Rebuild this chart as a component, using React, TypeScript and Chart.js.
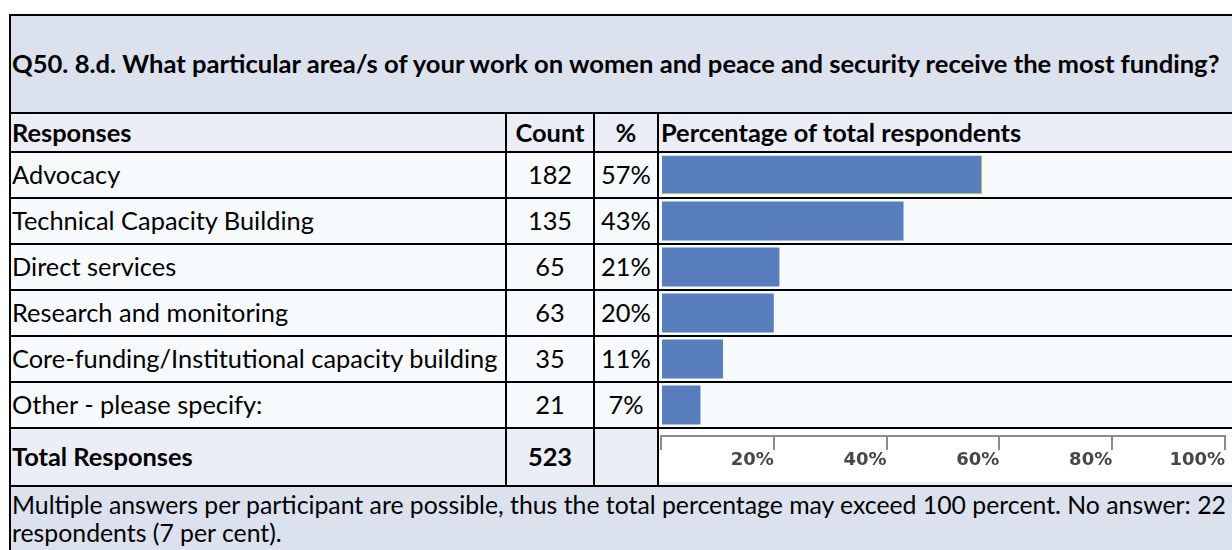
import React, { useEffect, useRef } from 'react';
import { Chart, registerables } from 'chart.js';

Chart.register(...registerables);

const TITLE =
  'Q50. 8.d. What particular area/s of your work on women and peace and security receive the most funding?';
const HEADERS = ['Responses', 'Count', '%', 'Percentage of total respondents'];
const CATEGORIES = [
  'Advocacy',
  'Technical Capacity Building',
  'Direct services',
  'Research and monitoring',
  'Core-funding/Institutional capacity building',
  'Other - please specify:',
];
const COUNTS = [182, 135, 65, 63, 35, 21];
const PERCENTS = [57, 43, 21, 20, 11, 7];
const TOTAL_LABEL = 'Total Responses';
const TOTAL_COUNT = 523;
const AXIS_TICKS = [0, 20, 40, 60, 80, 100];
const FOOTNOTE_LINES = [
  'Multiple answers per participant are possible, thus the total percentage may exceed 100 percent. No answer: 22',
  'respondents (7 per cent).',
];

const W = 1232;
const H = 550;
const FONT = 'Lato, "Open Sans", sans-serif';
const FS = 25.4;
const FS_TITLE = 25.6;
const FS_FOOT = 24.8;
const BAR_COLOR = '#587EBD';
const AXIS_GRAY = '#8C8C8C';

const COL1 = 505; // vertical lines (left px, 2px wide)
const COL2 = 593;
const COL3 = 657;
const ROW_TOP = 151; // first data-row line
const ROW_H = 46;

function Box(props: { l: number; t: number; w: number; h: number; bg: string }) {
  return (
    <div
      style={{
        position: 'absolute',
        left: props.l,
        top: props.t,
        width: props.w,
        height: props.h,
        background: props.bg,
      }}
    />
  );
}

function Txt(props: {
  text: string | number;
  l: number;
  t: number;
  w: number;
  h: number;
  bold?: boolean;
  align?: 'left' | 'center';
  size?: number;
}) {
  return (
    <div
      style={{
        position: 'absolute',
        left: props.l,
        top: props.t,
        width: props.w,
        height: props.h,
        display: 'flex',
        alignItems: 'center',
        justifyContent: props.align === 'center' ? 'center' : 'flex-start',
        fontFamily: FONT,
        fontSize: props.size ?? FS,
        fontWeight: props.bold ? 700 : 400,
        color: '#000',
        whiteSpace: 'nowrap',
        lineHeight: 1,
      }}
    >
      {props.text}
    </div>
  );
}

export default function App() {
  const canvasRef = useRef<HTMLCanvasElement>(null);

  useEffect(() => {
    const canvas = canvasRef.current;
    if (!canvas) return;
    const chart = new Chart(canvas, {
      type: 'bar',
      data: {
        labels: CATEGORIES,
        datasets: [
          {
            data: PERCENTS,
            xAxisID: 'x',
            yAxisID: 'y',
            backgroundColor: BAR_COLOR,
            borderColor: '#FFFF00',
            borderWidth: PERCENTS.map((_, i) =>
              i === 0 ? { top: 0, right: 1, bottom: 1, left: 0 } : 0
            ) as any,
            borderSkipped: 'start',
            categoryPercentage: 1,
            barPercentage: 39 / 46,
          },
        ],
      },
      options: {
        indexAxis: 'y',
        animation: false,
        responsive: false,
        devicePixelRatio: 1,
        events: [],
        layout: { padding: { left: 661, top: 152, right: 7, bottom: 0 } },
        plugins: {
          legend: { display: false },
          tooltip: { enabled: false },
          title: { display: false },
        },
        scales: {
          x: {
            type: 'linear',
            position: 'bottom',
            weight: 10,
            min: 0,
            max: 100,
            afterBuildTicks: (s: any) => {
              s.ticks = AXIS_TICKS.map((v) => ({ value: v }));
            },
            afterFit: (s: any) => {
              s.height = H - 436;
            },
            grid: {
              drawOnChartArea: false,
              drawTicks: true,
              tickLength: 14,
              color: AXIS_GRAY,
              lineWidth: 2,
            },
            border: { display: true, color: AXIS_GRAY, width: 2 },
            ticks: {
              align: 'end',
              padding: 0,
              autoSkip: false,
              maxRotation: 0,
              color: '#474747',
              font: { family: '"DejaVu Sans"', weight: 'bold', size: 18 },
              callback: (v: any) => (Number(v) === 0 ? '' : v + '%'),
            },
          },
          gap: {
            type: 'linear',
            position: 'bottom',
            weight: 0,
            grid: { display: false },
            border: { display: false },
            ticks: { display: false },
            afterFit: (s: any) => {
              s.height = 8;
            },
          },
          y: {
            type: 'category',
            display: false,
            offset: true,
          },
        },
      } as any,
    });
    return () => chart.destroy();
  }, []);

  const lastLine = ROW_TOP + ROW_H * CATEGORIES.length; // 427
  const totalBottom = 485;

  return (
    <div
      style={{
        position: 'absolute',
        left: 0,
        top: 0,
        width: W,
        height: H,
        overflow: 'hidden',
        background: '#FFFFFF',
      }}
    >
      {/* backgrounds */}
      <Box l={9} t={14} w={W - 9} h={99} bg="#DCE1EE" />
      <Box l={9} t={113} w={W - 9} h={39} bg="#EBEEF6" />
      <Box l={9} t={152} w={W - 9} h={lastLine - 152} bg="#F8FBFD" />
      <Box l={9} t={lastLine} w={W - 9} h={totalBottom - lastLine} bg="#EBEEF6" />
      <Box l={9} t={totalBottom} w={W - 9} h={H - totalBottom} bg="#DCE1EE" />
      {/* axis white panel */}
      <Box l={659} t={429} w={W - 659} h={53} bg="#FFFFFF" />

      {/* grid lines */}
      <Box l={9} t={14} w={W - 9} h={2} bg="#000" />
      <Box l={9} t={14} w={2} h={H - 14} bg="#000" />
      <Box l={9} t={112} w={W - 9} h={2} bg="#000" />
      {Array.from({ length: CATEGORIES.length + 1 }, (_, i) => (
        <Box key={'h' + i} l={9} t={ROW_TOP + ROW_H * i} w={W - 9} h={2} bg="#000" />
      ))}
      <Box l={9} t={totalBottom} w={W - 9} h={2} bg="#000" />
      {[COL1, COL2, COL3].map((x) => (
        <Box key={'v' + x} l={x} t={112} w={2} h={totalBottom + 2 - 112} bg="#000" />
      ))}

      {/* title */}
      <Txt text={TITLE} l={12} t={16} w={W - 14} h={96} bold size={FS_TITLE} />

      {/* header */}
      <Txt text={HEADERS[0]} l={12} t={114} w={COL1 - 14} h={37} bold />
      <Txt text={HEADERS[1]} l={COL1 + 2} t={114} w={COL2 - COL1 - 2} h={37} bold align="center" />
      <Txt text={HEADERS[2]} l={COL2 + 2} t={114} w={COL3 - COL2 - 2} h={37} bold align="center" />
      <Txt text={HEADERS[3]} l={661} t={114} w={W - 661} h={37} bold />

      {/* rows */}
      {CATEGORIES.map((c, i) => {
        const t = ROW_TOP + ROW_H * i + 2;
        return (
          <React.Fragment key={c}>
            <Txt text={c} l={12} t={t} w={COL1 - 14} h={ROW_H - 2} />
            <Txt text={COUNTS[i]} l={COL1 + 2} t={t} w={COL2 - COL1 - 2} h={ROW_H - 2} align="center" />
            <Txt text={PERCENTS[i] + '%'} l={COL2 + 2} t={t} w={COL3 - COL2 - 2} h={ROW_H - 2} align="center" />
          </React.Fragment>
        );
      })}

      {/* total */}
      <Txt text={TOTAL_LABEL} l={12} t={lastLine + 2} w={COL1 - 14} h={totalBottom - lastLine - 2} bold />
      <Txt
        text={TOTAL_COUNT}
        l={COL1 + 2}
        t={lastLine + 2}
        w={COL2 - COL1 - 2}
        h={totalBottom - lastLine - 2}
        bold
        align="center"
      />

      {/* footnote */}
      {FOOTNOTE_LINES.map((line, i) => (
        <Txt key={'f' + i} text={line} l={12} t={491 + i * 28} w={W - 14} h={28} size={FS_FOOT} />
      ))}

      <canvas
        ref={canvasRef}
        width={W}
        height={H}
        style={{ position: 'absolute', left: 0, top: 0, width: W, height: H }}
      />
    </div>
  );
}
